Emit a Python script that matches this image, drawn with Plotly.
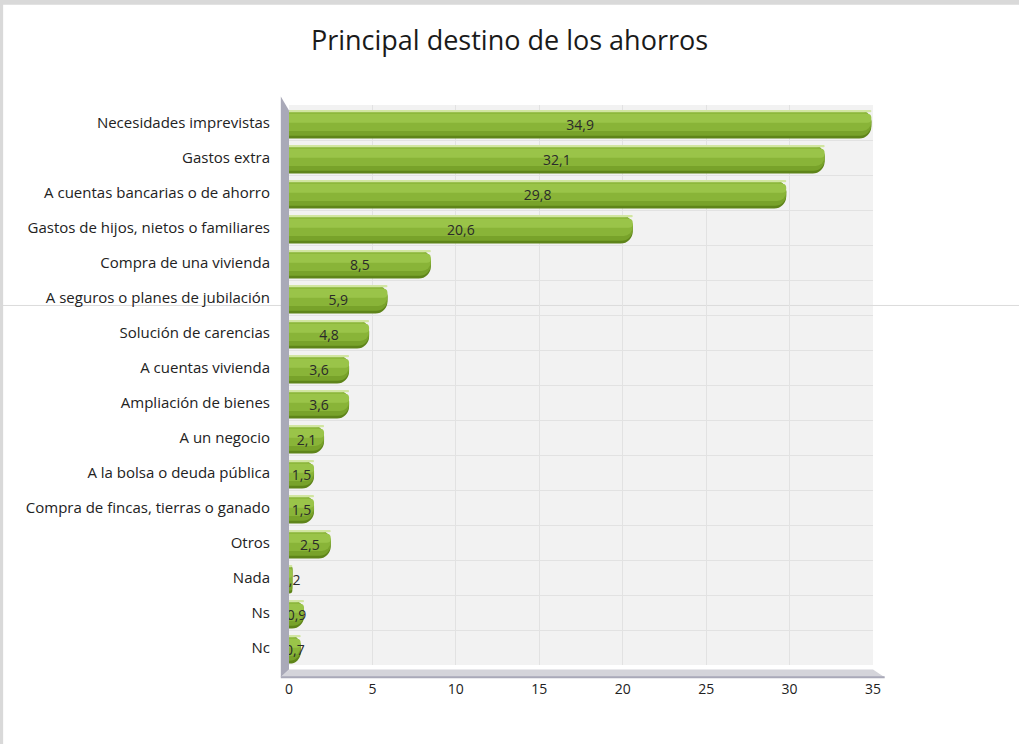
import plotly.graph_objects as go

categorias = [
    "Necesidades imprevistas",
    "Gastos extra",
    "A cuentas bancarias o de ahorro",
    "Gastos de hijos, nietos o familiares",
    "Compra de una vivienda",
    "A seguros o planes de jubilación",
    "Solución de carencias",
    "A cuentas vivienda",
    "Ampliación de bienes",
    "A un negocio",
    "A la bolsa o deuda pública",
    "Compra de fincas, tierras o ganado",
    "Otros",
    "Nada",
    "Ns",
    "Nc",
]
valores = [34.9, 32.1, 29.8, 20.6, 8.5, 5.9, 4.8, 3.6, 3.6, 2.1, 1.5, 1.5, 2.5, 0.2, 0.9, 0.7]
etiquetas = [f"{v:.1f}".replace(".", ",") for v in valores]
ticks_x = [0, 5, 10, 15, 20, 25, 30, 35]

fig = go.Figure()

# capas superpuestas para imitar el cilindro con degradado
capas = [
    # (offset, ancho, color, radio)
    (-0.34, 0.80, "#5e8419", 12),
    (-0.34, 0.72, "#78a22a", 11),
    (-0.31, 0.55, "#89b438", 9),
    (-0.25, 0.26, "#9ac449", 5),
    (-0.34, 0.05, "#d2e6a2", 2),
]
for off, ancho, color, radio in capas:
    fig.add_trace(go.Bar(
        y=categorias, x=valores, orientation="h", offset=off, width=ancho,
        marker=dict(color=color, cornerradius=radio, line=dict(width=0)),
        hoverinfo="skip", showlegend=False,
    ))

# capa transparente con las etiquetas
fig.add_trace(go.Bar(
    y=categorias, x=valores, orientation="h", offset=-0.34, width=0.80,
    marker=dict(color="rgba(0,0,0,0)", line=dict(width=0)),
    text=etiquetas, textposition="inside", insidetextanchor="middle",
    constraintext="none", textangle=0,
    textfont=dict(family="Open Sans", size=14, color="#2a2a2a"),
    hovertemplate="%{y}: %{text}<extra></extra>", showlegend=False,
))

fig.update_layout(
    width=1019, height=744,
    barmode="overlay",
    title=dict(text="Principal destino de los ahorros", x=0.5, y=0.958,
               xanchor="center", font=dict(family="Open Sans", size=27, color="#1a1a1a")),
    font=dict(family="Open Sans", size=15, color="#222222"),
    paper_bgcolor="white",
    plot_bgcolor="#f2f2f2",
    margin=dict(l=289, r=146, t=105, b=79),
    xaxis=dict(range=[0, 35], tickvals=ticks_x, showgrid=True, gridcolor="#e2e2e2",
               zeroline=False, ticks="", ticklabelstandoff=14,
               tickfont=dict(family="Open Sans", size=14, color="#222222")),
    yaxis=dict(autorange="reversed", tickson="boundaries", showgrid=True,
               gridcolor="#e2e2e2", ticks="", ticklabelstandoff=18,
               tickfont=dict(family="Open Sans", size=15, color="#222222")),
    shapes=[
        # pared izquierda
        dict(type="path", xref="paper", yref="paper",
             path="M -0.014 1.015 L 0.0 0.99 L 0.0 -0.008 L -0.014 -0.022 Z",
             fillcolor="#a9a9b8", line=dict(width=0), layer="above"),
        # suelo
        dict(type="path", xref="paper", yref="paper",
             path="M -0.014 -0.022 L 0.0 -0.008 L 1.0 -0.008 L 1.02 -0.022 Z",
             fillcolor="#d4d4da", line=dict(width=0), layer="above"),
        dict(type="line", xref="paper", yref="paper", x0=-0.014, x1=1.02, y0=-0.022, y1=-0.022,
             line=dict(color="#a9a9b8", width=2)),
        # marco gris de la captura
        dict(type="rect", xref="paper", yref="paper", x0=-0.6, x1=1.5, y0=1.179, y1=1.25,
             fillcolor="#d9d9d9", line=dict(width=0)),
        dict(type="rect", xref="paper", yref="paper", x0=-0.6, x1=-0.4895, y0=-0.2, y1=1.25,
             fillcolor="#d9d9d9", line=dict(width=0)),
        # línea fina horizontal que cruza la captura
        dict(type="line", xref="paper", yref="paper", x0=-0.49, x1=1.3, y0=0.642, y1=0.642,
             line=dict(color="#dcdcdc", width=1), layer="below"),
    ],
)

fig.write_html("out.html", config={"displayModeBar": False},
               post_script="document.body.style.margin='0';")
